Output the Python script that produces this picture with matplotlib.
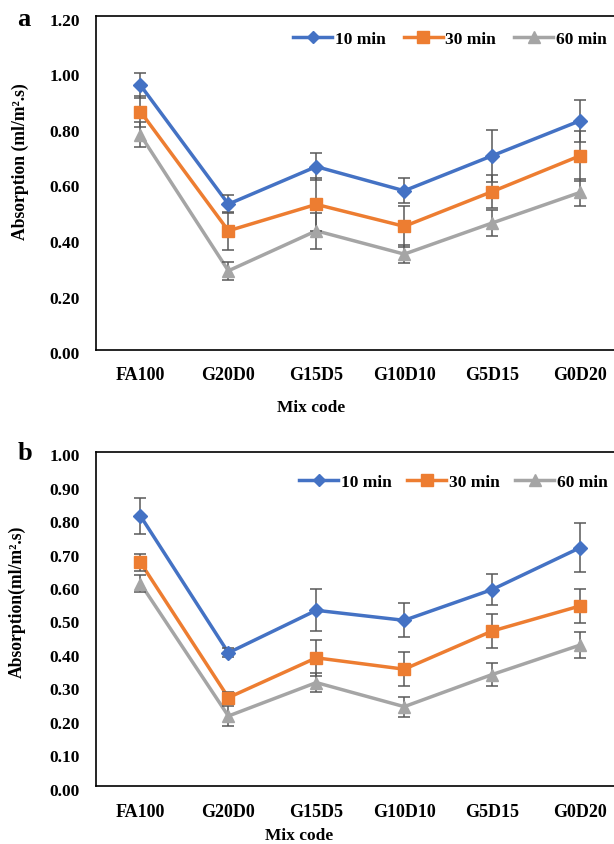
import matplotlib
matplotlib.use("Agg")
import matplotlib.pyplot as plt
import matplotlib.transforms as mtransforms
import numpy as np

categories = ["FA100", "G20D0", "G15D5", "G10D10", "G5D15", "G0D20"]
series_names = ["10 min", "30 min", "60 min"]

# Panel a
a_10 = [0.952, 0.524, 0.659, 0.572, 0.698, 0.824]
a_30 = [0.857, 0.428, 0.523, 0.444, 0.569, 0.698]
a_60 = [0.773, 0.284, 0.428, 0.344, 0.456, 0.566]
a_10_err = [0.045, 0.033, 0.049, 0.045, 0.094, 0.076]
a_30_err = [0.055, 0.068, 0.094, 0.075, 0.060, 0.090]
a_60_err = [0.045, 0.033, 0.064, 0.033, 0.048, 0.048]

# Panel b
b_10 = [0.808, 0.399, 0.526, 0.496, 0.588, 0.713]
b_30 = [0.669, 0.265, 0.384, 0.350, 0.464, 0.539]
b_60 = [0.606, 0.210, 0.310, 0.238, 0.334, 0.422]
b_10_err = [0.055, 0.013, 0.063, 0.051, 0.045, 0.074]
b_30_err = [0.025, 0.018, 0.053, 0.050, 0.052, 0.050]
b_60_err = [0.025, 0.030, 0.029, 0.030, 0.034, 0.040]

colors = ["#4472C4", "#ED7D31", "#A5A5A5"]
markers = ["D", "s", "^"]
msizes = [7, 9, 9]

plt.rcParams["font.family"] = ["Liberation Serif", "DejaVu Serif"]
plt.rcParams["font.weight"] = "bold"

W, H = 614, 845
fig = plt.figure(figsize=(W / 100, H / 100), dpi=100)


def fx(px):
    return px / W


def fy(py):
    return 1 - py / H


def draw_panel(top, bottom, vals, errs, ymax, ystep, ylabel, letter, letter_xy,
               leg_x, leg_y, leg_colsp, ylabel_xy, xlabel_xy):
    ax = fig.add_axes([fx(96.5), fy(bottom), fx(624) - fx(96.5), fy(top) - fy(bottom)])
    x = np.arange(len(categories))
    for i in range(3):
        ax.plot(x, vals[i], color=colors[i], lw=2.5, zorder=2, solid_capstyle="round")
        ax.errorbar(x, vals[i], yerr=errs[i], fmt="none", ecolor="#595959",
                    elinewidth=1.1, capsize=4, capthick=1.1, zorder=3)
        ax.plot(x, vals[i], linestyle="none", marker=markers[i], ms=msizes[i],
                color=colors[i], zorder=4)
    handles = [plt.Line2D([], [], color=colors[i], lw=2.5, marker=markers[i],
                          ms=msizes[i] - 1) for i in range(3)]
    fig.legend(handles, series_names, loc="center left",
               bbox_to_anchor=(fx(leg_x), fy(leg_y)), ncol=3, frameon=False,
               handlelength=2.25, handletextpad=0.15, columnspacing=leg_colsp,
               borderpad=0, borderaxespad=0,
               prop={"family": "Liberation Serif", "weight": "bold", "size": 12.5})
    ax.set_xlim(-0.5, 5.5)
    ax.set_ylim(0, ymax)
    ticks = np.round(np.arange(0, ymax + ystep / 2, ystep), 2)
    ax.set_yticks(ticks)
    ax.set_yticklabels([f"{t:.2f}" for t in ticks])
    ax.set_xticks(x)
    ax.set_xticklabels(categories)
    ax.tick_params(axis="y", length=0, pad=12, labelsize=12.5)
    ax.tick_params(axis="x", length=0, pad=12, labelsize=13)
    shift = mtransforms.ScaledTranslation(0, -2.5 / 100, fig.dpi_scale_trans)
    for lab in ax.get_yticklabels():
        lab.set_fontweight("bold")
        lab.set_transform(lab.get_transform() + shift)
    for lab in ax.get_xticklabels():
        lab.set_fontweight("bold")
    for sp in ax.spines.values():
        sp.set_linewidth(1.2)
        sp.set_color("black")
    fig.text(fx(ylabel_xy[0]), fy(ylabel_xy[1]), ylabel, rotation=90,
             ha="center", va="center", fontsize=12.7, fontweight="bold")
    fig.text(fx(xlabel_xy[0]), fy(xlabel_xy[1]), "Mix code", ha="center", va="center",
             fontsize=12.5, fontweight="bold")
    fig.text(fx(letter_xy[0]), fy(letter_xy[1]), letter, ha="center", va="center",
             fontsize=19, fontweight="bold")
    return ax


draw_panel(17.3, 350.7, [a_10, a_30, a_60], [a_10_err, a_30_err, a_60_err], 1.2, 0.2,
           "Absorption (ml/m\u00b2.s)", "a", (24, 19), 293, 40, 1.05, (20, 162), (311, 408))
draw_panel(452.7, 787.3, [b_10, b_30, b_60], [b_10_err, b_30_err, b_60_err], 1.0, 0.1,
           "Absorption(ml/m\u00b2.s)", "b", (25, 454), 299, 483, 0.9, (17, 602), (299, 836))

fig.savefig("out.png", dpi=100)
